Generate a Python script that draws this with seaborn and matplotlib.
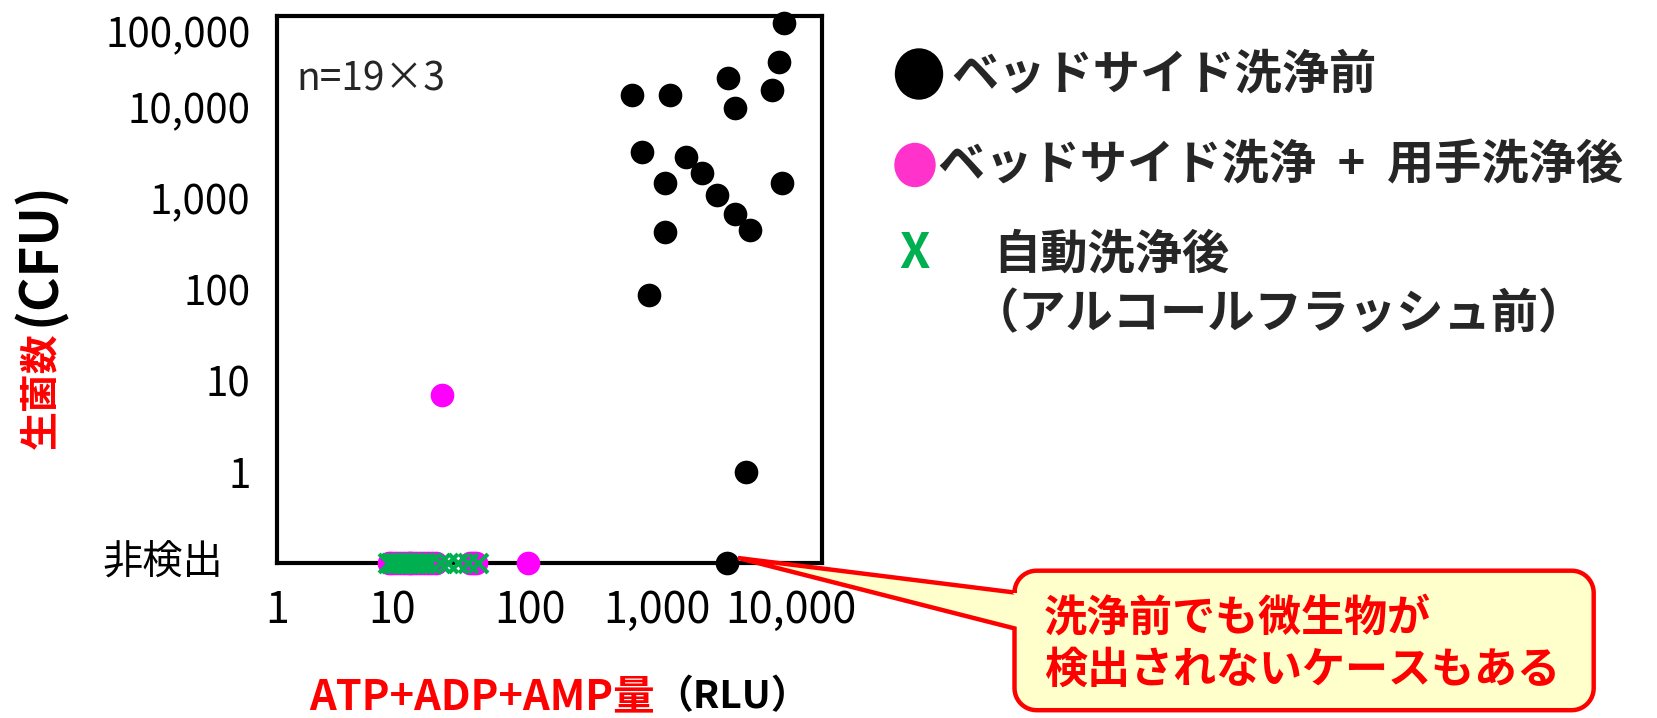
import matplotlib
import numpy as np
import pandas as pd

matplotlib.use("Agg")
import matplotlib.pyplot as plt
import seaborn as sns
from matplotlib.patches import Ellipse, Polygon
from matplotlib.transforms import ScaledTranslation

# 非検出 (not detected) is drawn on the bottom axis line
ND = 0.1

before_rlu = [10000, 9200, 3600, 8000, 630, 1270, 4100, 760, 1690, 2240,
              1150, 9600, 2950, 4100, 5450, 1150, 870, 5000, 3550]
before_cfu = [84000, 31000, 21000, 15300, 13500, 13500, 9800, 3200, 2800, 1900,
              1470, 1470, 1070, 670, 450, 425, 86, 1, ND]

manual_rlu = [20, 96, 7.7, 8.1, 8.7, 9.4, 10.1, 10.9, 11.3, 11.7,
              12.6, 13.5, 14.5, 15.6, 16.8, 18.1, 33.6, 35.4, 37.4]
manual_cfu = [7] + [ND] * 18

auto_rlu = [7.5, 8.0, 8.4, 8.9, 9.4, 9.9, 10.5, 11.0, 11.7, 12.3,
            13.0, 13.7, 14.8, 16.2, 19.4, 22.5, 27.0, 32.4, 38.8]
auto_cfu = [ND] * 19

groups = ["ベッドサイド洗浄前", "ベッドサイド洗浄 + 用手洗浄後", "自動洗浄後"]
legend_texts = ["ベッドサイド洗浄前", "ベッドサイド洗浄  +  用手洗浄後",
                "自動洗浄後", "（アルコールフラッシュ前）"]

x_ticks = [1, 10, 100, 1000, 10000]
x_tick_labels = ["1", "10", "100", "1,000", "10,000"]
y_ticks = [ND, 1, 10, 100, 1000, 10000, 100000]
y_tick_labels = ["非検出", "1", "10", "100", "1,000", "10,000", "100,000"]

df = pd.concat([
    pd.DataFrame({"rlu": before_rlu, "cfu": before_cfu, "group": groups[0]}),
    pd.DataFrame({"rlu": manual_rlu, "cfu": manual_cfu, "group": groups[1]}),
    pd.DataFrame({"rlu": auto_rlu, "cfu": auto_cfu, "group": groups[2]}),
], ignore_index=True)

sns.set_style("white")
plt.rcParams["font.family"] = ["Noto Sans CJK JP", "DejaVu Sans"]

W, H = 1657, 718
fig = plt.figure(figsize=(W / 100, H / 100), dpi=100)
ax = fig.add_axes([277 / W, 1 - 563 / H, 545 / W, (563 - 15.7) / H])

styles = {
    groups[0]: dict(color="black", marker="o", s=290, linewidth=0),
    groups[1]: dict(color="#FF00FF", marker="o", s=290, linewidth=0),
    groups[2]: dict(color="#00B050", marker="x", s=185, linewidth=3),
}
for g in groups:
    sns.scatterplot(data=df[df["group"] == g], x="rlu", y="cfu", ax=ax,
                    clip_on=False, zorder=3, legend=False, **styles[g])

ax.set_xscale("log")
ax.set_yscale("log")
ax.set_xlim(1, 20000)
ax.set_ylim(0.1, 100000)
ax.set_xticks(x_ticks, labels=x_tick_labels)
ax.set_yticks(y_ticks, labels=y_tick_labels)
ax.minorticks_off()
ax.set_xlabel("")
ax.set_ylabel("")
ax.tick_params(axis="both", direction="in", length=7, width=2.2, pad=19,
               top=False, right=False, colors="black")
ax.tick_params(axis="x", labelsize=31)
ax.tick_params(axis="y", labelsize=29)
for s in ax.spines.values():
    s.set_visible(True)
    s.set_color("black")
    s.set_linewidth(3)


# small nudges of individual tick labels as in the original
def nudge(label, dx_px, dy_px):
    label.set_transform(label.get_transform()
                        + ScaledTranslation(dx_px / 100, dy_px / 100, fig.dpi_scale_trans))


ylabs = ax.get_yticklabels()
nudge(ylabs[0], -27, 5)
nudge(ylabs[-1], 0, -16)
xlabs = ax.get_xticklabels()
nudge(xlabs[1], -12, 0)
nudge(xlabs[4], 7, 0)

ax.text(0.035, 0.884, "n=19×3", transform=ax.transAxes, fontsize=28,
        ha="left", va="center")

# axis titles (two-coloured), anchored on the baseline of the rotated text
fig.text(52 / W, 1 - 449 / H, "生菌数", rotation=90, rotation_mode="anchor",
         color="red", fontsize=28, fontweight="bold", ha="left", va="baseline")
fig.text(55 / W, 1 - 326 / H, "(CFU)", rotation=90, rotation_mode="anchor",
         color="black", fontsize=38, fontweight="bold", ha="left", va="baseline")
tx = fig.text(309 / W, 1 - 697 / H, "ATP+ADP+AMP量", color="red",
              fontsize=30, fontweight="bold", ha="left", va="center")
fig.add_artist(plt.Annotation("（RLU）", xy=(1, 0.5), xycoords=tx,
                              ha="left", va="center", fontsize=28,
                              fontweight="bold", color="black"))

# overlay in pixel coordinates for legend and callout
ov = fig.add_axes([0, 0, 1, 1])
ov.set_xlim(0, W)
ov.set_ylim(H, 0)
ov.axis("off")

ov.add_patch(Ellipse((919, 74), 47, 50, color="black"))
ov.text(951, 74, legend_texts[0], fontsize=34, fontweight="bold", ha="left", va="center")
ov.add_patch(Ellipse((915, 165), 40, 43, color="#FF33CC"))
ov.text(938, 165, legend_texts[1], fontsize=34, fontweight="bold", ha="left", va="center")
ov.text(915, 254, "X", color="#00B050", fontsize=35, fontweight="bold",
        ha="center", va="center")
ov.text(993, 254, legend_texts[2], fontsize=34, fontweight="bold", ha="left", va="center")
ov.text(972, 314, legend_texts[3], fontsize=34, fontweight="bold",
        ha="left", va="center")

# callout: rounded box with a wedge pointing at the undetected point
x0, x1, y0, y1, r = 1014.5, 1593.7, 570.7, 710.2, 22
tip = (738, 558)
b_top, b_bot = 592.5, 628.4


def arc(cx, cy, a0, a1):
    t = np.radians(np.linspace(a0, a1, 12))
    return list(zip(cx + r * np.cos(t), cy + r * np.sin(t)))


pts = []
pts += arc(x0 + r, y0 + r, 180, 270)
pts += arc(x1 - r, y0 + r, 270, 360)
pts += arc(x1 - r, y1 - r, 0, 90)
pts += arc(x0 + r, y1 - r, 90, 180)
pts += [(x0, b_bot), tip, (x0, b_top)]
ov.add_patch(Polygon(pts, closed=True, facecolor="#FFFFCC", edgecolor="red",
                     linewidth=3.2, joinstyle="miter"))
ov.text(1044, 618, "洗浄前でも微生物が", color="red", fontsize=31,
        fontweight="bold", ha="left", va="center")
ov.text(1044, 670, "検出されないケースもある", color="red", fontsize=31,
        fontweight="bold", ha="left", va="center")

fig.savefig("out.png", dpi=100)
